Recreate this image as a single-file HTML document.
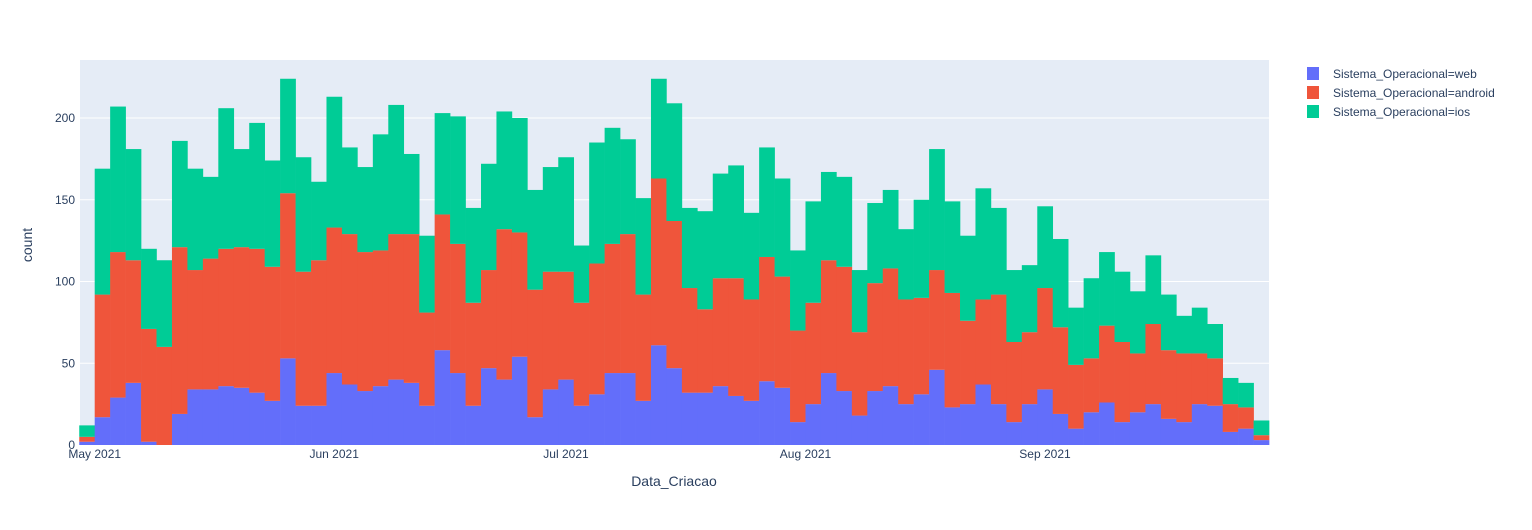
<!DOCTYPE html>
<html><head><meta charset="utf-8">
<style>
body{margin:0;background:#fff;font-family:"Liberation Sans",sans-serif;}
svg text{font-family:"Liberation Sans",sans-serif;fill:#2a3f5f;}
</style></head>
<body>
<svg id="chart" width="1532" height="525" viewBox="0 0 1532 525" xmlns="http://www.w3.org/2000/svg">
<rect x="0" y="0" width="1532" height="525" fill="#fff"/>
<rect x="80" y="60" width="1189" height="385" fill="#e5ecf6"/>
<g id="grid"></g>
<g id="bars"></g>
<g id="axes"></g>
<text x="674" y="486" font-size="14" text-anchor="middle">Data_Criacao</text>
<text x="32" y="245" font-size="14" text-anchor="middle" transform="rotate(-90 32 245)">count</text>
<g>
 <g><rect x="1307" y="67" width="12" height="13" fill="#636efa"/><text x="1333" y="78" font-size="12">Sistema_Operacional=web</text></g>
 <g><rect x="1307" y="86" width="12" height="13" fill="#ef553b"/><text x="1333" y="97" font-size="12">Sistema_Operacional=android</text></g>
 <g><rect x="1307" y="105" width="12" height="13" fill="#00cc96"/><text x="1333" y="116" font-size="12">Sistema_Operacional=ios</text></g>
</g>
</svg>
<script>
const webCounts=[2,17,29,38,2,0,19,34,34,36,35,32,27,53,24,24,44,37,33,36,40,38,24,58,44,24,47,40,54,17,34,40,24,31,44,44,27,61,47,32,32,36,30,27,39,35,14,25,44,33,18,33,36,25,31,46,23,25,37,25,14,25,34,19,10,20,26,14,20,25,16,14,25,24,8,10,3];
const androidCumTop=[5,92,118,113,71,60,121,107,114,120,121,120,109,154,106,113,133,129,118,119,129,129,81,141,123,87,107,132,130,95,106,106,87,111,123,129,92,163,137,96,83,102,102,89,115,103,70,87,113,109,69,99,108,89,90,107,93,76,89,92,63,69,96,72,49,53,73,63,56,74,58,56,56,53,25,23,6];
const totalCounts=[12,169,207,181,120,113,186,169,164,206,181,197,174,224,176,161,213,182,170,190,208,178,128,203,201,145,172,204,200,156,170,176,122,185,194,187,151,224,209,145,143,166,171,142,182,163,119,149,167,164,107,148,156,132,150,181,149,128,157,145,107,110,146,126,84,102,118,106,94,116,92,79,84,74,41,38,15];
const androidCounts=androidCumTop.map((v,i)=>v-webCounts[i]);
const iosCounts=totalCounts.map((v,i)=>v-androidCumTop[i]);
const yTicks=[0,50,100,150,200];
const xTickLabels=["May 2021","Jun 2021","Jul 2021","Aug 2021","Sep 2021"];
const xTickDays=[0,31,61,92,123];
const binStartDay=-2, binDays=2;

const NS="http://www.w3.org/2000/svg";
const xScale=d=>94.7+7.726*d;
const yScale=v=>445-v*1.635;
function mk(tag,attrs,parent){const e=document.createElementNS(NS,tag);for(const k in attrs)e.setAttribute(k,attrs[k]);parent.appendChild(e);return e;}
const grid=document.getElementById('grid'),bars=document.getElementById('bars'),axes=document.getElementById('axes');
yTicks.forEach(t=>{
  if(t>0){const l=mk('line',{x1:80,x2:1269,y1:yScale(t),y2:yScale(t),stroke:'#fff','stroke-width':1},grid);
  
  }
  const tx=mk('text',{x:75,y:yScale(t)+4,'font-size':12,'text-anchor':'end'},axes);tx.textContent=t;
  
  
});
xTickDays.forEach((d,i)=>{
  const tx=mk('text',{x:xScale(d),y:458,'font-size':12,'text-anchor':'middle'},axes);tx.textContent=xTickLabels[i];
  
  
});
const series=[[webCounts,'#636efa','web'],[androidCounts,'#ef553b','android'],[iosCounts,'#00cc96','ios']];
totalCounts.forEach((_,i)=>{
  const x0=xScale(binStartDay+i*binDays),x1=xScale(binStartDay+(i+1)*binDays);
  let base=0;
  series.forEach(([arr,col,nm])=>{
    const v=arr[i];
    const r=mk('rect',{x:x0,width:x1-x0+0.3,y:yScale(base+v),height:Math.max(0,yScale(base)-yScale(base+v)),fill:col},bars);
    
    
    base+=v;
  });
});
</script>
</body></html>
